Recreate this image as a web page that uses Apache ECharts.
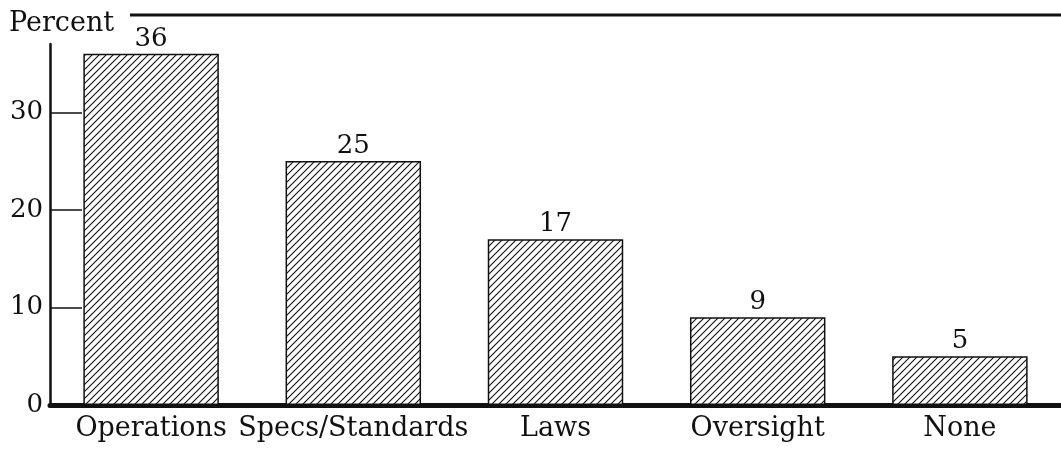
<!DOCTYPE html>
<html>
<head>
<meta charset="utf-8">
<script src="https://cdn.jsdelivr.net/npm/echarts@6/dist/echarts.min.js"></script>
<style>
  html, body { margin: 0; padding: 0; background: #fff; }
  #chart { width: 1061px; height: 452px; }
</style>
</head>
<body>
<div id="chart"></div>
<script>
const categories = ['Operations', 'Specs/Standards', 'Laws', 'Oversight', 'None'];
const percents = [36, 25, 17, 9, 5];
const yLabels = [0, 10, 20, 30];

const FONT = 'DejaVu Serif';

// hatch pattern, thin "/" lines
function makeHatch() {
  const size = 7;
  const c = document.createElement('canvas');
  c.width = size;
  c.height = size;
  const ctx = c.getContext('2d');
  ctx.fillStyle = '#fff';
  ctx.fillRect(0, 0, size, size);
  ctx.strokeStyle = '#111';
  ctx.lineWidth = 1.1;
  ctx.beginPath();
  ctx.moveTo(-1, size + 1); ctx.lineTo(size + 1, -1);
  ctx.moveTo(-1, 1); ctx.lineTo(1, -1);
  ctx.moveTo(size - 1, size + 1); ctx.lineTo(size + 1, size - 1);
  ctx.stroke();
  return c;
}

const chart = echarts.init(document.getElementById('chart'));
chart.setOption({
  animation: false,
  backgroundColor: '#fff',
  title: {
    text: 'Percent',
    left: 4,
    top: 5,
    textStyle: { fontFamily: FONT, fontWeight: 'normal', fontSize: 27, color: '#111' }
  },
  graphic: [{
    type: 'line',
    shape: { x1: 130, y1: 15, x2: 1061, y2: 15 },
    style: { stroke: '#111', lineWidth: 3 }
  }],
  grid: { left: 50, right: 0, top: 44, bottom: 47 },
  xAxis: {
    type: 'category',
    data: categories,
    axisLine: { lineStyle: { color: '#111', width: 5 } },
    axisTick: { show: false },
    axisLabel: { fontFamily: FONT, fontSize: 27, color: '#111', margin: 10, interval: 0 }
  },
  yAxis: {
    type: 'value',
    min: 0,
    max: 37,
    interval: 10,
    splitLine: { show: false },
    axisLine: { show: true, lineStyle: { color: '#111', width: 2.5 } },
    axisTick: { show: true, inside: true, length: 32, lineStyle: { color: '#111', width: 1.5 },
      customValues: [10, 20, 30] },
    axisLabel: { fontFamily: FONT, fontSize: 26, color: '#111', margin: 7,
      customValues: yLabels }
  },
  series: [{
    type: 'bar',
    data: percents,
    barWidth: '67%',
    itemStyle: {
      color: { image: makeHatch(), repeat: 'repeat' },
      borderColor: '#111',
      borderWidth: 1.5
    },
    label: {
      show: true,
      position: 'top',
      distance: 2,
      fontFamily: FONT,
      fontSize: 26,
      color: '#111'
    }
  }]
});
</script>
</body>
</html>
